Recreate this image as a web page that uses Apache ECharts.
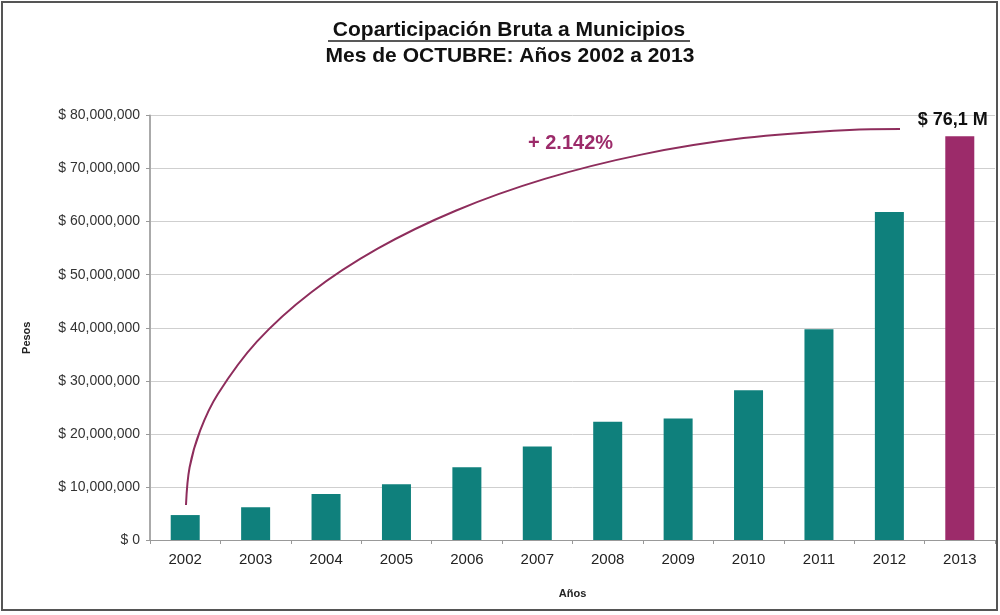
<!DOCTYPE html>
<html><head><meta charset="utf-8">
<script src="https://cdn.jsdelivr.net/npm/echarts@6/dist/echarts.min.js"></script>
<style>html,body{margin:0;padding:0;background:#fff}#c{width:1000px;height:615px}</style>
</head><body><div id="c"></div>
<script>
const years = ['2002','2003','2004','2005','2006','2007','2008','2009','2010','2011','2012','2013'];
const values = [4700000, 6150000, 8650000, 10500000, 13700000, 17600000, 22300000, 22900000, 28200000, 39700000, 61800000, 76100000];
const yTicks = [0, 10000000, 20000000, 30000000, 40000000, 50000000, 60000000, 70000000, 80000000];
// annotation arc: [category index, value]
const arcX = [0.011, 0.062, 0.213, 0.464, 1.021, 1.782, 2.732, 3.849, 5.106, 6.476, 7.930, 9.434, 10.151];
const arcY = [6600000, 13660000, 20670000, 27530000, 37430000, 46610000, 54900000, 62100000, 68050000, 72630000, 75740000, 77290000, 77460000];
const growthLabel = '+ 2.142%';
const lastLabel = '$ 76,1 M';
const titleLines = ['Coparticipación Bruta a Municipios', 'Mes de OCTUBRE: Años 2002 a 2013'];

const FONT = 'Liberation Sans, Arial, sans-serif';
const fmt = v => '$ ' + (v === 0 ? '0' : v.toLocaleString('en-US'));
const chart = echarts.init(document.getElementById('c'), null, {renderer:'canvas'});
const barData = values.map((v, i) => i === values.length - 1 ? {
  value: v,
  itemStyle: {color: '#9c2b6a'},
  label: {show: true, position: 'top', distance: 7, formatter: lastLabel,
          fontFamily: FONT, fontWeight: 'bold', fontSize: 18, color: '#111', offset: [-7, 0]}
} : v);
chart.setOption({
  backgroundColor: '#fff',
  animation: false,
  graphic: [
    {type: 'rect', shape: {x: 2, y: 2, width: 995, height: 608}, style: {fill: 'none', stroke: '#555', lineWidth: 2}, silent: true},
    {type: 'text', x: 509, y: 30, style: {text: titleLines[0], textAlign: 'center', textVerticalAlign: 'middle', fill: '#111', font: 'bold 21px ' + FONT}},
    {type: 'line', shape: {x1: 328, y1: 41, x2: 690, y2: 41}, style: {stroke: '#222', lineWidth: 1.5}, silent: true},
    {type: 'text', x: 510, y: 56, style: {text: titleLines[1], textAlign: 'center', textVerticalAlign: 'middle', fill: '#111', font: 'bold 21px ' + FONT}},
    {type: 'text', x: 528, y: 143, style: {text: growthLabel, textVerticalAlign: 'middle', fill: '#9c2b6a', font: 'bold 20px ' + FONT}}
  ],
  grid: {left: 150, right: 5, top: 115.5, bottom: 75},
  xAxis: [
    {type: 'category', data: years,
     axisLine: {lineStyle: {color: '#999'}},
     axisTick: {show: true, length: 4, lineStyle: {color: '#999'}},
     axisLabel: {color: '#222', fontSize: 15, margin: 12, fontFamily: FONT},
     name: 'Años', nameLocation: 'middle', nameGap: 48,
     nameTextStyle: {fontWeight: 'bold', fontSize: 11, color: '#222', fontFamily: FONT}},
    {type: 'value', min: -0.5, max: 11.5, show: false}
  ],
  yAxis: {
    type: 'value', min: 0, max: 80000000, interval: 10000000,
    axisLine: {show: true, onZero: false, lineStyle: {color: '#aaa', width: 2}},
    axisTick: {show: true, length: 4, lineStyle: {color: '#999'}},
    splitLine: {lineStyle: {color: '#cfcfcf'}},
    axisLabel: {color: '#333', fontSize: 14, margin: 10, fontFamily: FONT,
      formatter: v => yTicks.includes(v) ? fmt(v) : ''},
    name: 'Pesos', nameLocation: 'middle', nameGap: 118, nameRotate: 90,
    nameTextStyle: {fontWeight: 'bold', fontSize: 11, color: '#222', fontFamily: FONT, padding: [0, 0, 0, -20]}
  },
  series: [
    {type: 'bar', data: barData, barWidth: 29, itemStyle: {color: '#0f807c'}},
    {type: 'line', xAxisIndex: 1, data: arcX.map((x, i) => [x, arcY[i]]), smooth: 0.35, symbol: 'none',
     lineStyle: {color: '#8e2d5c', width: 2}, z: 5}
  ]
});
</script></body></html>
